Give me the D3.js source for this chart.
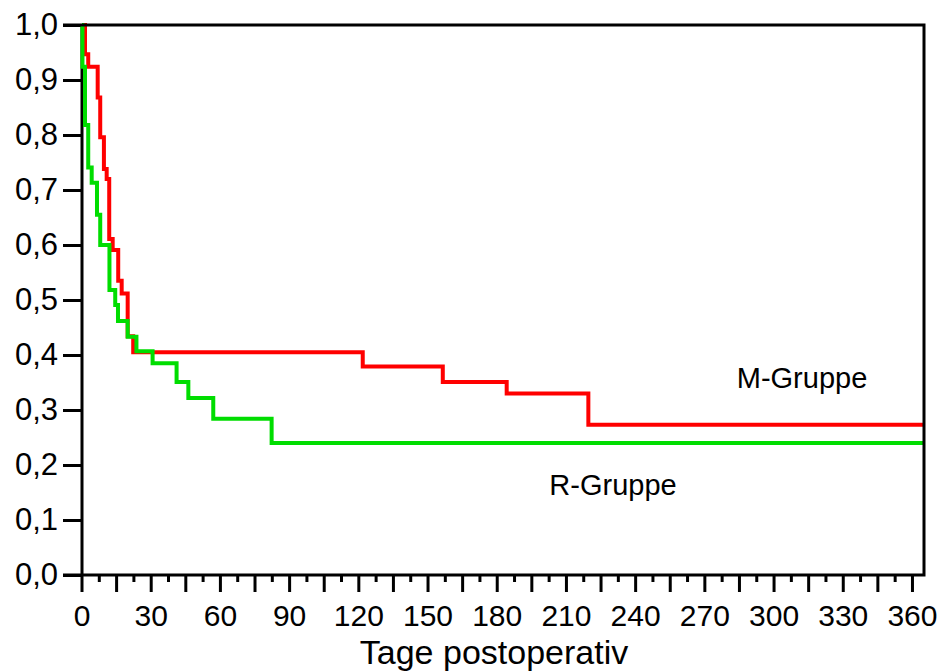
<!DOCTYPE html>
<html>
<head>
<meta charset="utf-8">
<script src="https://cdn.jsdelivr.net/npm/d3@7"></script>
<style>
  html, body { margin: 0; padding: 0; background: #fff; }
  svg { display: block; font-family: "Liberation Sans", Arial, sans-serif; }
</style>
</head>
<body>
<svg id="chart" width="943" height="671"></svg>
<script>
// Kaplan-Meier step data: [day, survival]
const mGruppe = [
  [0, 1.0], [1.3, 0.947], [2.7, 0.924], [6.8, 0.868], [7.9, 0.796],
  [9.5, 0.738], [10.7, 0.72], [11.8, 0.611], [13.3, 0.591], [15.7, 0.535],
  [17.2, 0.512], [19.8, 0.434], [22.2, 0.405], [121.7, 0.379], [156.4, 0.351],
  [184.1, 0.330], [219.5, 0.273], [365, 0.273]
];
const rGruppe = [
  [0, 1.0], [0.2, 0.924], [1.3, 0.818], [2.7, 0.741], [4.2, 0.713],
  [6.5, 0.655], [7.9, 0.600], [11.9, 0.518], [14.4, 0.491], [15.6, 0.462],
  [19.8, 0.433], [23.6, 0.407], [30.6, 0.385], [41.0, 0.351], [46.1, 0.322],
  [56.9, 0.284], [82.2, 0.240], [365, 0.240]
];
const yTickValues = [0, 0.1, 0.2, 0.3, 0.4, 0.5, 0.6, 0.7, 0.8, 0.9, 1.0];
const xLabelValues = [0, 30, 60, 90, 120, 150, 180, 210, 240, 270, 300, 330, 360];
const xAxisTitle = "Tage postoperativ";
const seriesLabels = ["M-Gruppe", "R-Gruppe"];

(function () {
const svg = d3.select("#chart");
const pL = 82, pR = 924, pT = 25, pB = 575;
const x = d3.scaleLinear().domain([0, 365]).range([pL, pR]);
const y = d3.scaleLinear().domain([0, 1]).range([pB, pT]);

// Y axis
const yAxis = d3.axisLeft(y)
  .tickValues(yTickValues)
  .tickSize(19)
  .tickPadding(5)
  .tickFormat(d => d3.format(".1f")(d).replace(".", ","));
const gy = svg.append("g").attr("transform", `translate(${pL},0)`).call(yAxis);
gy.select(".domain").remove();
gy.selectAll(".tick line").attr("stroke", "#000").attr("stroke-width", 3);
gy.selectAll(".tick text").attr("font-size", 31).attr("fill", "#000")
  .attr("font-family", "Liberation Sans, Arial, sans-serif");

// left axis line
svg.append("line").attr("x1", pL).attr("x2", pL).attr("y1", pT).attr("y2", pB)
  .attr("stroke", "#000").attr("stroke-width", 3);

// X axis ticks (every 7.5 days; long at multiples of 15)
const xTicks = d3.range(0, 361, 7.5);
const gx = svg.append("g");
gx.selectAll("line").data(xTicks).join("line")
  .attr("x1", d => x(d)).attr("x2", d => x(d))
  .attr("y1", pB).attr("y2", d => pB + (d % 15 === 0 ? 17 : 7))
  .attr("stroke", "#000").attr("stroke-width", 3);
gx.selectAll("text").data(xLabelValues).join("text")
  .attr("x", d => x(d)).attr("y", 626)
  .attr("text-anchor", "middle").attr("font-size", 30).attr("fill", "#000")
  .text(d => d);

// Curves
const line = d3.line().x(d => x(d[0])).y(d => y(d[1])).curve(d3.curveStepAfter);
svg.append("path").datum(mGruppe).attr("d", line)
  .attr("fill", "none").attr("stroke", "#ff0000").attr("stroke-width", 4);
svg.append("path").datum(rGruppe).attr("d", line)
  .attr("fill", "none").attr("stroke", "#00dd00").attr("stroke-width", 4);

// Frame: top, right, bottom
svg.append("path")
  .attr("d", `M${pL - 19},${pT} H${pR} V${pB} H${pL - 19}`)
  .attr("fill", "none").attr("stroke", "#000").attr("stroke-width", 3);

// Series labels
svg.append("text").attr("x", 802).attr("y", 388).attr("text-anchor", "middle")
  .attr("font-size", 29).attr("fill", "#000").text(seriesLabels[0]);
svg.append("text").attr("x", 613).attr("y", 495).attr("text-anchor", "middle")
  .attr("font-size", 29).attr("fill", "#000").text(seriesLabels[1]);

// Axis title
svg.append("text").attr("x", 494).attr("y", 664).attr("text-anchor", "middle")
  .attr("font-size", 34).attr("fill", "#000").text(xAxisTitle);
})();
</script>
</body>
</html>
